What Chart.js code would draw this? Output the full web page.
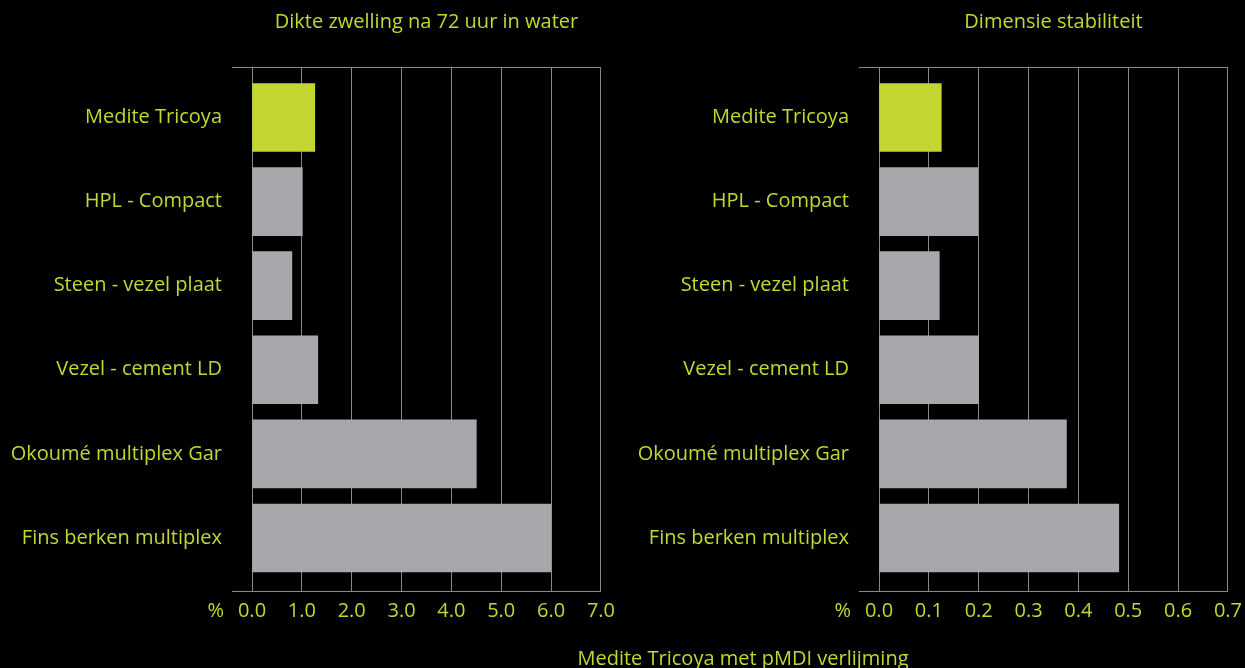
<!DOCTYPE html>
<html>
<head>
<meta charset="utf-8">
<script src="https://cdn.jsdelivr.net/npm/chart.js@4"></script>
<style>
  html, body { margin: 0; padding: 0; background: #000; }
  body { width: 1245px; height: 668px; position: relative; overflow: hidden; font-family: "Open Sans", sans-serif; }
  .box { position: absolute; top: 0; height: 668px; }
  #leftBox { left: 0; width: 623px; }
  #rightBox { left: 625px; width: 625px; }
  #footer { position: absolute; left: 0; width: 1486px; top: 644px; text-align: center; color: #c4d632; font-size: 20px; }
</style>
</head>
<body>
<div class="box" id="leftBox"><canvas id="swellChart" width="623" height="668"></canvas></div>
<div class="box" id="rightBox"><canvas id="stabilityChart" width="625" height="668"></canvas></div>
<div id="footer">Medite Tricoya met pMDI verlijming</div>

<script>
// categories, top to bottom
const categories = ['Medite Tricoya', 'HPL - Compact', 'Steen - vezel plaat', 'Vezel - cement LD', 'Okoumé multiplex Gar', 'Fins berken multiplex'];

// Dikte zwelling na 72 uur in water (%)
const swellValues = [1.26, 1.01, 0.80, 1.32, 4.50, 6.00];
// Dimensie stabiliteit (%)
const stabilityValues = [0.125, 0.198, 0.121, 0.200, 0.376, 0.481];

const swellTicks = [0, 1, 2, 3, 4, 5, 6, 7];
const stabilityTicks = [0, 0.1, 0.2, 0.3, 0.4, 0.5, 0.6, 0.7];

const green = '#c4d632';
const barGreen = '#c3d632';
const barGray = '#a7a8ab';
const gridGray = '#888888';
const font = '"Open Sans", sans-serif';

// space above first / below last category, in category units
const padTop = 0.6;
const padBottom = 0.63;

// small '%' sign left of the value axis
const percentSign = {
  id: 'percentSign',
  afterDraw(chart) {
    const x = chart.scales.x;
    const c = chart.ctx;
    c.save();
    c.fillStyle = green;
    c.font = '20px ' + font;
    c.textAlign = 'right';
    c.textBaseline = 'middle';
    c.fillText('%', x.left - 28, x.top + 20);
    c.restore();
  }
};

function makeChart(id, title, values, ticks) {
  const colors = values.map((v, i) => i === 0 ? barGreen : barGray);
  const yMin = -padTop;
  const yMax = categories.length - 1 + padBottom;
  return new Chart(document.getElementById(id), {
    type: 'bar',
    data: {
      datasets: [{
        data: values.map((v, i) => ({ x: v, y: i })),
        backgroundColor: colors,
        borderWidth: 0,
        barThickness: 68
      }]
    },
    options: {
      indexAxis: 'y',
      responsive: false,
      animation: false,
      layout: { padding: { left: 0, right: 18, top: 0, bottom: 0 } },
      plugins: {
        legend: { display: false },
        tooltip: { enabled: false },
        title: {
          display: true,
          text: title,
          fullSize: false,
          color: green,
          font: { family: font, size: 20, weight: 'normal' },
          padding: { top: 10, bottom: 33 }
        }
      },
      scales: {
        x: {
          type: 'linear',
          bounds: 'data',
          min: ticks[0],
          max: ticks[ticks.length - 1],
          afterBuildTicks: (scale) => { scale.ticks = ticks.map(v => ({ value: v })); },
          afterFit: (scale) => { scale.height = 77; },
          border: { display: false },
          grid: { color: gridGray, lineWidth: 1, drawTicks: false },
          ticks: {
            color: green,
            padding: 8,
            font: { family: font, size: 20 },
            callback: (v) => Number(v).toFixed(1)
          }
        },
        y: {
          type: 'linear',
          bounds: 'data',
          offset: false,
          reverse: true,
          min: yMin,
          max: yMax,
          afterBuildTicks: (scale) => {
            scale.ticks = [yMin].concat(categories.map((c, i) => i), [yMax]).map(v => ({ value: v }));
          },
          afterFit: (scale) => { scale.width = id === 'swellChart' ? 252 : 254; },
          border: { display: false },
          grid: {
            offset: false,
            lineWidth: 1,
            tickLength: 20,
            color: (ctx) => (ctx.tick && Number.isInteger(ctx.tick.value)) ? 'rgba(0,0,0,0)' : gridGray
          },
          ticks: {
            autoSkip: false,
            color: green,
            padding: 10,
            font: { family: font, size: 20 },
            callback: (v) => Number.isInteger(v) ? categories[v] : ''
          }
        }
      }
    },
    plugins: [percentSign]
  });
}

makeChart('swellChart', 'Dikte zwelling na 72 uur in water', swellValues, swellTicks);
makeChart('stabilityChart', 'Dimensie stabiliteit', stabilityValues, stabilityTicks);
</script>
</body>
</html>
